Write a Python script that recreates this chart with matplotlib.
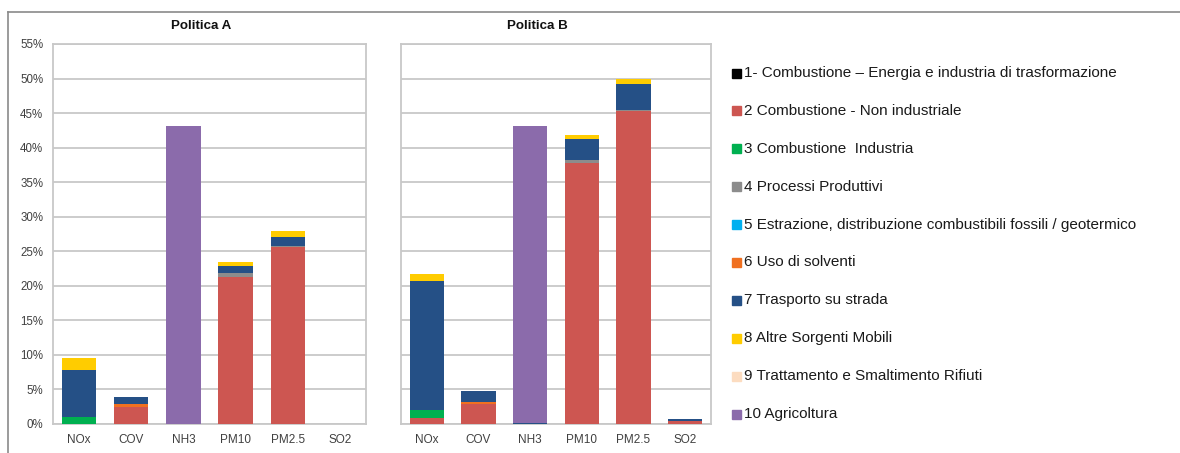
import numpy as np
import matplotlib
matplotlib.use("Agg")
import matplotlib.pyplot as plt
from matplotlib.lines import Line2D
from matplotlib.patches import Rectangle

plt.rcParams['font.family'] = ['Liberation Sans', 'DejaVu Sans']

# ---------------------------
# Data (% share per pollutant)
# ---------------------------
pollutants = ["NOx", "COV", "NH3", "PM10", "PM2.5", "SO2"]

sectors = [
    "1- Combustione \u2013 Energia e industria di trasformazione",
    "2 Combustione - Non industriale",
    "3 Combustione  Industria",
    "4 Processi Produttivi",
    "5 Estrazione, distribuzione combustibili fossili / geotermico",
    "6 Uso di solventi",
    "7 Trasporto su strada",
    "8 Altre Sorgenti Mobili",
    "9 Trattamento e Smaltimento Rifiuti",
    "10 Agricoltura",
]

colors = ["#000000", "#CD5651", "#00B050", "#8C8C8C", "#00B0F0",
          "#F07020", "#255086", "#FFCC00", "#FCDCC0", "#8B6BAB"]

# rows = sectors, columns = pollutants
politica_a = [
    [0.0, 0.0, 0.0, 0.0, 0.0, 0.0],     # 1
    [0.0, 2.45, 0.0, 21.3, 25.6, 0.0],  # 2
    [1.0, 0.0, 0.0, 0.0, 0.0, 0.0],     # 3
    [0.0, 0.0, 0.0, 0.5, 0.2, 0.0],     # 4
    [0.0, 0.0, 0.0, 0.0, 0.0, 0.0],     # 5
    [0.0, 0.45, 0.0, 0.0, 0.0, 0.0],    # 6
    [6.8, 1.05, 0.0, 1.1, 1.3, 0.0],    # 7
    [1.7, 0.0, 0.0, 0.6, 0.8, 0.0],     # 8
    [0.0, 0.0, 0.0, 0.0, 0.0, 0.0],     # 9
    [0.0, 0.0, 43.2, 0.0, 0.0, 0.0],    # 10
]

politica_b = [
    [0.0, 0.0, 0.0, 0.0, 0.0, 0.0],     # 1
    [0.9, 2.9, 0.0, 37.8, 45.3, 0.4],   # 2
    [1.1, 0.0, 0.0, 0.0, 0.0, 0.0],     # 3
    [0.0, 0.0, 0.0, 0.4, 0.2, 0.0],     # 4
    [0.0, 0.0, 0.0, 0.0, 0.0, 0.0],     # 5
    [0.0, 0.35, 0.0, 0.0, 0.0, 0.0],    # 6
    [18.7, 1.55, 0.2, 3.1, 3.7, 0.35],  # 7
    [1.0, 0.0, 0.0, 0.6, 0.8, 0.0],     # 8
    [0.0, 0.0, 0.0, 0.0, 0.0, 0.0],     # 9
    [0.0, 0.0, 43.0, 0.0, 0.0, 0.0],    # 10
]

titles = ["Politica A", "Politica B"]
yticks = list(range(0, 56, 5))

# ---------------------------
# Figure
# ---------------------------
W, H = 1180, 453
fig = plt.figure(figsize=(W / 100, H / 100), dpi=100)


def px_axes(x0, x1, y_top, y_bot):
    return fig.add_axes([x0 / W, 1 - y_bot / H, (x1 - x0) / W, (y_bot - y_top) / H])


axes = [px_axes(53, 366, 44, 424), px_axes(401, 711, 44, 424)]
title_x = [201, 537]

for k, (ax, data) in enumerate(zip(axes, [politica_a, politica_b])):
    data = np.array(data)
    x = np.arange(len(pollutants))
    bottom = np.zeros(len(pollutants))
    for i in range(len(sectors)):
        ax.bar(x, data[i], 0.66, bottom=bottom, color=colors[i], linewidth=0, zorder=3)
        bottom += data[i]

    ax.set_xlim(-0.5, len(pollutants) - 0.5)
    ax.set_ylim(0, 55)
    ax.set_yticks(yticks)
    ax.grid(axis="y", color="#C8C8C8", linewidth=1.3, zorder=0)
    ax.set_xticks(x)
    ax.set_xticklabels(pollutants, fontsize=8.5, color="#404040")
    if k == 0:
        ax.set_yticklabels([f"{v}%" for v in yticks], fontsize=8.3, color="#404040")
    else:
        ax.set_yticklabels([])
    ax.tick_params(length=0, pad=7)
    for s in ax.spines.values():
        s.set_color("#C8C8C8")
        s.set_linewidth(1.3)

    fig.text(title_x[k] / W, 1 - 26 / H, titles[k], ha="center", va="center",
             fontsize=9.6, fontweight="bold", color="#111111")

# ---------------------------
# Legend (manual, Excel-like spacing)
# ---------------------------
for i, label in enumerate(sectors):
    yc = 73 + i * 37.9
    fig.patches.append(Rectangle((732 / W, 1 - (yc + 4.5) / H), 9 / W, 9 / H,
                                 transform=fig.transFigure, color=colors[i]))
    fig.text(744 / W, 1 - yc / H, label, ha="left", va="center",
             fontsize=10.95, color="#1a1a1a")

# outer frame (partially cropped)
fig.add_artist(Line2D([8 / W, 1], [1 - 12 / H, 1 - 12 / H], transform=fig.transFigure,
                      color="#8A8A8A", linewidth=1.2))
fig.add_artist(Line2D([8 / W, 8 / W], [0, 1 - 12 / H], transform=fig.transFigure,
                      color="#8A8A8A", linewidth=1.2))

fig.savefig("out.png", dpi=100)
